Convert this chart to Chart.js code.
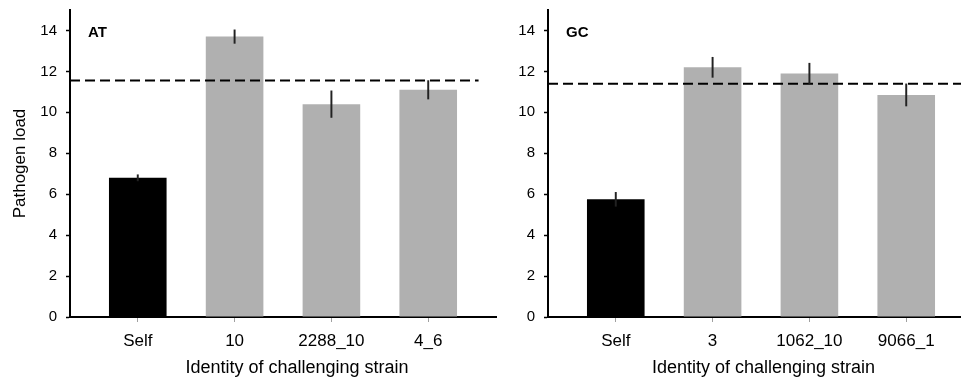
<!DOCTYPE html>
<html><head><meta charset="utf-8">
<script src="https://cdn.jsdelivr.net/npm/chart.js@4.4.0/dist/chart.umd.min.js"></script>
<style>
html,body{margin:0;padding:0;background:#fff;overflow:hidden;width:961px;height:382px;}
#wrap{position:relative;width:961px;height:382px;overflow:hidden;}
canvas{position:absolute;top:0;}
#c1{left:0}
#c2{left:478px}
</style></head><body>
<div id="wrap"><canvas id="c1" width="500" height="382"></canvas><canvas id="c2" width="500" height="382"></canvas></div>
<script>
// ---- data ----
const atCategories = ['Self', '10', '2288_10', '4_6'];
const atMeans = [6.8, 13.7, 10.4, 11.1];
const atErrors = [0.15, 0.33, 0.65, 0.45];
const atReference = 11.55;

const gcCategories = ['Self', '3', '1062_10', '9066_1'];
const gcMeans = [5.75, 12.2, 11.9, 10.85];
const gcErrors = [0.34, 0.49, 0.5, 0.54];
const gcReference = 11.4;

const yTickValues = [0, 2, 4, 6, 8, 10, 12, 14];
const yAxisTitle = 'Pathogen load';
const xAxisTitle = 'Identity of challenging strain';

// ---- chart ----
const FONT = '"Liberation Sans", Arial, Helvetica, sans-serif';
Chart.defaults.font.family = FONT;
Chart.defaults.color = '#000';

const X_MIN = 0.3, X_MAX = 4.7;

const annot = {
  id: 'annot',
  afterDraw(chart, args, opts) {
    const ctx = chart.ctx, x = chart.scales.x, y = chart.scales.y;
    ctx.save();
    ctx.fillStyle = '#000';
    ctx.font = 'bold 15px ' + FONT;
    ctx.textBaseline = 'middle';
    ctx.textAlign = 'left';
    ctx.fillText(opts.label, x.left + 18, y.getPixelForValue(yTickValues[yTickValues.length - 1]) + 2);
    ctx.font = '18px ' + FONT;
    ctx.textAlign = 'center';
    const mid = (x.getPixelForValue(1) + x.getPixelForValue(opts.n)) / 2 + opts.titleShift;
    ctx.fillText(xAxisTitle, mid, y.bottom + 51);
    ctx.restore();
  }
};

function makeChart(id, label, cats, means, errs, ref, lineEnd, showYTitle, titleShift) {
  const pos = cats.map((c, i) => i + 1);
  return new Chart(document.getElementById(id), {
    type: 'bar',
    data: {
      datasets: [
        {
          type: 'bar',
          data: pos.map((p, i) => ({x: p, y: [means[i] - errs[i], means[i] + errs[i]]})),
          backgroundColor: '#222',
          grouped: false,
          barPercentage: 1,
          categoryPercentage: 1,
          maxBarThickness: 1.3,
          order: 0
        },
        {
          type: 'line',
          data: [{x: X_MIN, y: ref}, {x: lineEnd, y: ref}],
          borderColor: '#000',
          borderWidth: 2,
          borderDash: [10, 5],
          pointRadius: 0,
          fill: false,
          order: 1
        },
        {
          type: 'bar',
          data: pos.map((p, i) => ({x: p, y: means[i]})),
          backgroundColor: pos.map((p, i) => i === 0 ? '#000000' : '#b0b0b0'),
          borderWidth: 0,
          grouped: false,
          barPercentage: 0.595,
          categoryPercentage: 1,
          order: 2
        }
      ]
    },
    options: {
      responsive: false,
      animation: false,
      devicePixelRatio: 1,
      layout: {padding: {top: 10, right: 4, left: 0, bottom: 0}},
      plugins: {
        legend: {display: false},
        tooltip: {enabled: false},
        annot: {label: label, n: cats.length, titleShift: titleShift}
      },
      scales: {
        x: {
          type: 'linear',
          min: X_MIN,
          max: X_MAX,
          offset: false,
          afterBuildTicks: s => { s.ticks = pos.map(v => ({value: v})); },
          afterFit: s => { s.height = 65; s.paddingLeft = 0; s.paddingRight = 0; },
          ticks: {
            callback: v => cats[Math.round(v) - 1],
            font: {size: 17},
            color: '#000',
            padding: 9,
            maxRotation: 0,
            autoSkip: false
          },
          grid: {drawOnChartArea: false, offset: false, tickLength: 5, tickColor: '#a0a0a0', tickWidth: 1},
          border: {color: '#000', width: 2}
        },
        y: {
          min: 0,
          max: 15,
          afterBuildTicks: s => { s.ticks = yTickValues.map(v => ({value: v})); },
          afterFit: s => { s.width = 70; s.paddingTop = 0; s.paddingBottom = 0; },
          ticks: {font: {size: 15}, color: '#000', padding: 9},
          grid: {drawOnChartArea: false, tickLength: 4, tickColor: '#000', tickWidth: 1.5},
          border: {color: '#000', width: 2},
          title: {display: showYTitle, text: yAxisTitle, font: {size: 17}, color: '#000', padding: {top: 10, bottom: 0}}
        }
      }
    },
    plugins: [annot]
  });
}

makeChart('c1', 'AT', atCategories, atMeans, atErrors, atReference, 4.52, true, 14);
makeChart('c2', 'GC', gcCategories, gcMeans, gcErrors, gcReference, X_MAX, false, 2.5);
</script>
</body></html>
